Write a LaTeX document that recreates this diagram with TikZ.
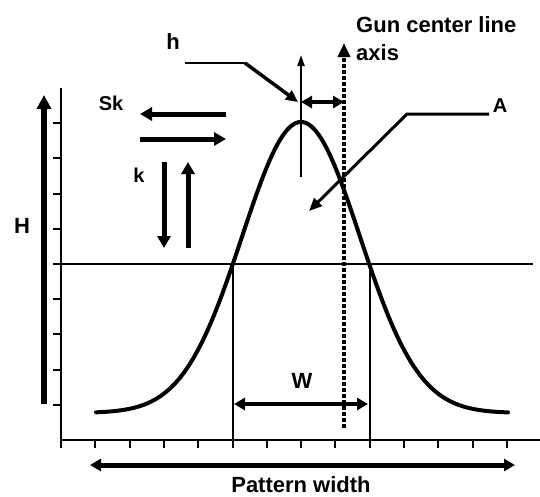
\documentclass[tikz,border=0pt]{standalone}
\usepackage{fontspec}
\setmainfont{Liberation Sans}
\usetikzlibrary{arrows.meta, positioning, calc}
\tikzset{
  axisline/.style={line width=2pt},
  curveline/.style={line width=4pt, line join=round, line cap=round},
  fatarrow/.style={-{Triangle[length=12pt, width=13pt]}, line width=5pt},
  dimarrow/.style={{Triangle[length=11pt, width=12pt]}-{Triangle[length=11pt, width=12pt]},
                   line width=4pt},
  thinarrow/.style={-{Triangle[length=11pt, width=7pt]}, line width=2.2pt},
  leaderthin/.style={line width=2.2pt},
  leaderthick/.style={-{Triangle[length=12pt, width=11pt]}, line width=3.5pt},
  gunaxis/.style={line width=3.5pt, dash pattern=on 4pt off 2pt,
                  -{Triangle[length=14pt, width=12pt]}},
  biglabel/.style={font=\bfseries\fontsize{22}{28}\selectfont, inner sep=0pt},
  smalllabel/.style={font=\bfseries\fontsize{20}{24}\selectfont, inner sep=0pt},
}

\begin{document}
\begin{tikzpicture}[x=1pt, y=-1pt]
  \useasboundingbox (0,0) rectangle (540,496);

  % axes and ticks
  \coordinate (origin) at (61,440);
  \coordinate (ytop) at (61,88);
  \coordinate (xend) at (540,440);
  \draw[axisline] (ytop) -- (61,448);
  \draw[axisline] (origin) -- (xend);
  \foreach \i in {1,...,9}
    \draw[axisline] (53,{440-35.2*\i}) -- (61,{440-35.2*\i});
  \foreach \i in {1,...,13}
    \draw[axisline] ({61+34.3*\i},440) -- ({61+34.3*\i},448);

  % half height line and width marks
  \coordinate (halfl) at (61,264);
  \coordinate (halfr) at (533,264);
  \coordinate (wl) at (232.5,264);
  \coordinate (wlb) at (232.5,440);
  \coordinate (wr) at (369.7,264);
  \coordinate (wrb) at (369.7,440);
  \draw[axisline] (halfl) -- (halfr);
  \draw[axisline] (wl) -- (wlb);
  \draw[axisline] (wr) -- (wrb);

  % spray pattern
  \draw[curveline] plot[domain=96:508, samples=160]
    (\x, {413-291*exp(-((\x-301)/100)^2/0.6942)});

  % peak mark and gun axis
  \coordinate (peakbot) at (301,177);
  \coordinate (peaktop) at (301,55);
  \draw[thinarrow] (peakbot) -- (peaktop);
  \coordinate (gunbot) at (344,428);
  \coordinate (guntop) at (344,43);
  \draw[gunaxis] (gunbot) -- (guntop);
  \node[biglabel, align=left, anchor=west] (gun) at (356,39)
    {Gun center line\\axis};

  % h offset
  \coordinate (hl) at (301,102);
  \coordinate (hr) at (344,102);
  \draw[dimarrow] (hl) -- (hr);
  \node[biglabel] (hlab) at (173,42) {h};
  \coordinate (hstart) at (185,63);
  \coordinate (hbend) at (245,63);
  \coordinate (htip) at (298,102);
  \draw[leaderthin] (hstart) -- (hbend);
  \draw[leaderthick] (hbend) -- (htip);

  % A leader
  \node[smalllabel] (alab) at (500,106) {A};
  \coordinate (astart) at (489,114);
  \coordinate (abend) at (407,114);
  \coordinate (atip) at (309,211);
  \draw[line width=3pt, -{Triangle[length=13pt, width=11pt]}]
    (astart) -- (abend) -- (atip);

  % Sk and k arrows
  \node[smalllabel] (sklab) at (111,103) {Sk};
  \coordinate (skl) at (140,114);
  \coordinate (skr) at (226,114);
  \draw[fatarrow] (skr) -- (skl);
  \coordinate (skl2) at (140,139);
  \coordinate (skr2) at (226,139);
  \draw[fatarrow] (skl2) -- (skr2);
  \node[smalllabel] (klab) at (139,175) {k};
  \coordinate (kdtop) at (164,162);
  \coordinate (kdbot) at (164,248);
  \draw[fatarrow] (kdtop) -- (kdbot);
  \coordinate (kutop) at (188,162);
  \coordinate (kubot) at (188,248);
  \draw[fatarrow] (kubot) -- (kutop);

  % H arrow
  \node[biglabel] (hhlab) at (22,226) {H};
  \coordinate (hhbot) at (44,404);
  \coordinate (hhtop) at (44,95);
  \draw[-{Triangle[length=14pt, width=14pt]}, line width=6pt] (hhbot) -- (hhtop);

  % W
  \node[biglabel] (wlab) at (302,381) {W};
  \coordinate (wdl) at (234,404);
  \coordinate (wdr) at (368,404);
  \draw[dimarrow] (wdl) -- (wdr);

  % pattern width
  \coordinate (pwl) at (90,465);
  \coordinate (pwr) at (515,465);
  \draw[dimarrow, line width=5pt] (pwl) -- (pwr);
  \node[biglabel] (pwlab) at (301,485) {Pattern width};
\end{tikzpicture}
\end{document}
